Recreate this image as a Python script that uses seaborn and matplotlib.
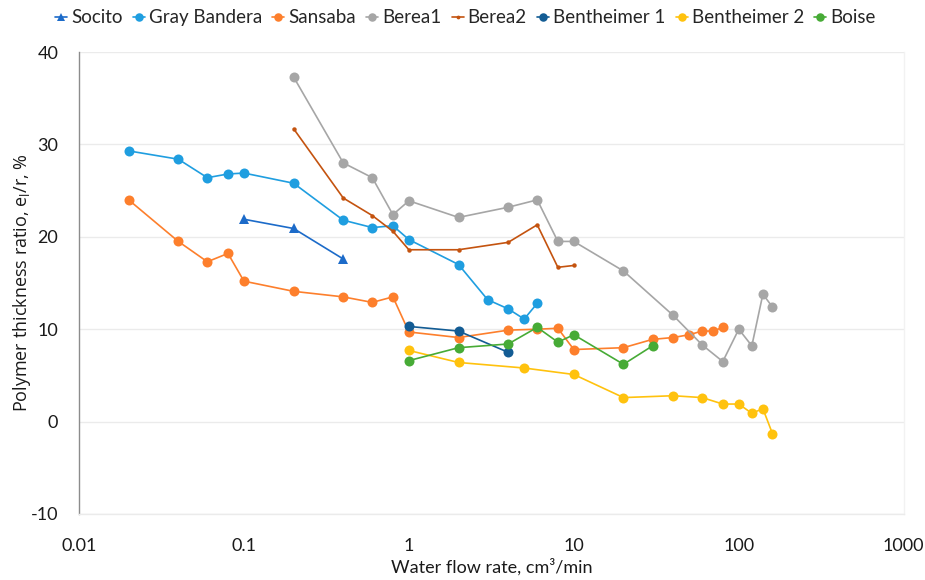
import matplotlib
matplotlib.use("Agg")
import matplotlib.pyplot as plt
import seaborn as sns
import pandas as pd
from matplotlib.ticker import FixedLocator, FixedFormatter, NullLocator

# Water flow rate (cm3/min) and polymer thickness ratio (%) per core sample
socito_q = [0.1, 0.2, 0.4]
socito_e = [21.9, 20.9, 17.6]

gray_bandera_q = [0.02, 0.04, 0.06, 0.08, 0.1, 0.2, 0.4, 0.6, 0.8, 1, 2, 3, 4, 5, 6]
gray_bandera_e = [29.3, 28.4, 26.4, 26.8, 26.9, 25.8, 21.8, 21.0, 21.2, 19.7, 17.0, 13.2, 12.2, 11.1, 12.8]

sansaba_q = [0.02, 0.04, 0.06, 0.08, 0.1, 0.2, 0.4, 0.6, 0.8, 1, 2, 4, 6, 8, 10,
             20, 30, 40, 50, 60, 70, 80]
sansaba_e = [24.0, 19.5, 17.3, 18.2, 15.2, 14.1, 13.5, 12.9, 13.5, 9.7, 9.1, 9.9, 10.0, 10.1, 7.8,
             8.0, 8.9, 9.1, 9.4, 9.8, 9.8, 10.2]

berea1_q = [0.2, 0.4, 0.6, 0.8, 1, 2, 4, 6, 8, 10, 20, 40, 60, 80, 100, 120, 140, 160]
berea1_e = [37.3, 28.0, 26.4, 22.4, 23.9, 22.1, 23.2, 24.0, 19.5, 19.5, 16.3, 11.5, 8.3, 6.5,
            10.0, 8.2, 13.8, 12.4]

berea2_q = [0.2, 0.4, 0.6, 0.8, 1, 2, 4, 6, 8, 10]
berea2_e = [31.7, 24.2, 22.3, 20.6, 18.6, 18.6, 19.4, 21.3, 16.7, 16.9]

bentheimer1_q = [1, 2, 4]
bentheimer1_e = [10.3, 9.8, 7.5]

bentheimer2_q = [1, 2, 5, 10, 20, 40, 60, 80, 100, 120, 140, 160]
bentheimer2_e = [7.7, 6.4, 5.8, 5.1, 2.6, 2.8, 2.6, 1.9, 1.9, 0.9, 1.4, -1.3]

boise_q = [1, 2, 4, 6, 8, 10, 20, 30]
boise_e = [6.6, 8.0, 8.4, 10.2, 8.6, 9.4, 6.2, 8.2]

series_names = ["Socito", "Gray Bandera", "Sansaba", "Berea1", "Berea2",
                "Bentheimer 1", "Bentheimer 2", "Boise"]
series_q = [socito_q, gray_bandera_q, sansaba_q, berea1_q, berea2_q,
            bentheimer1_q, bentheimer2_q, boise_q]
series_e = [socito_e, gray_bandera_e, sansaba_e, berea1_e, berea2_e,
            bentheimer1_e, bentheimer2_e, boise_e]

x_ticks = [0.01, 0.1, 1, 10, 100, 1000]
x_tick_labels = ["0.01", "0.1", "1", "10", "100", "1000"]
y_ticks = [-10, 0, 10, 20, 30, 40]
y_tick_labels = ["-10", "0", "10", "20", "30", "40"]

colors = ["#1c6bc9", "#1f9ee0", "#fd7f2c", "#a6a6a6", "#c4530f",
          "#135c94", "#ffc20e", "#47ab36"]
markers = ["^", "o", "o", "o", "o", "o", "o", "o"]
msizes = [6.5, 7.2, 7.2, 7.2, 3.2, 7.2, 7.2, 7.2]

sns.set_theme(style="white")
plt.rcParams["font.family"] = ["Lato", "DejaVu Sans"]
plt.rcParams["mathtext.fontset"] = "custom"
plt.rcParams["mathtext.rm"] = "Open Sans"

frames = []
for name, q, e in zip(series_names, series_q, series_e):
    frames.append(pd.DataFrame({"rate": q, "ratio": e, "core": name}))
df = pd.concat(frames, ignore_index=True)

fig = plt.figure(figsize=(9.25, 5.8), dpi=100)
ax = fig.add_axes([0.0854, 0.1138, 0.8916, 0.7965])

for name, c, m, ms in zip(series_names, colors, markers, msizes):
    sub = df[df["core"] == name]
    sns.lineplot(data=sub, x="rate", y="ratio", ax=ax, color=c, marker=m,
                 markersize=ms, markeredgewidth=0, linewidth=1.2,
                 estimator=None, sort=False, label=name)

ax.set_xscale("log")
ax.set_xlim(0.01, 1000)
ax.set_ylim(-10, 40)
ax.xaxis.set_major_locator(FixedLocator(x_ticks))
ax.xaxis.set_major_formatter(FixedFormatter(x_tick_labels))
ax.xaxis.set_minor_locator(NullLocator())
ax.yaxis.set_major_locator(FixedLocator(y_ticks))
ax.yaxis.set_major_formatter(FixedFormatter(y_tick_labels))

ax.grid(axis="y", color="#ebebeb", linewidth=1.0)
ax.set_axisbelow(True)
ax.tick_params(axis="both", length=0, labelsize=13, colors="#1a1a1a")
ax.tick_params(axis="x", pad=17)
ax.tick_params(axis="y", pad=15)

ax.spines["top"].set_visible(False)
ax.spines["left"].set_color("#8c8c8c")
ax.spines["left"].set_linewidth(1.0)
ax.spines["bottom"].set_color("#ebebeb")
ax.spines["bottom"].set_linewidth(1.0)
ax.spines["right"].set_color("#f2f2f2")
ax.spines["right"].set_linewidth(1.0)

ax.set_xlabel("Water flow rate, cm\u00b3/min", fontsize=13, color="#1a1a1a", labelpad=3)
ax.set_ylabel("Polymer thickness ratio, e$_\\mathregular{l}$/r, %", fontsize=13,
              color="#1a1a1a", family=["Open Sans", "DejaVu Sans"])
ax.yaxis.set_label_coords(-0.056, 0.5)

handles, labels = ax.get_legend_handles_labels()
ax.legend(handles, labels, loc="center", bbox_to_anchor=(0.503, 0.969),
          bbox_transform=fig.transFigure, ncol=8, frameon=False, fontsize=13.5,
          handlelength=0.65, handletextpad=0.2, columnspacing=0.55,
          markerscale=0.85, borderaxespad=0)

fig.savefig("out.png", dpi=100)
